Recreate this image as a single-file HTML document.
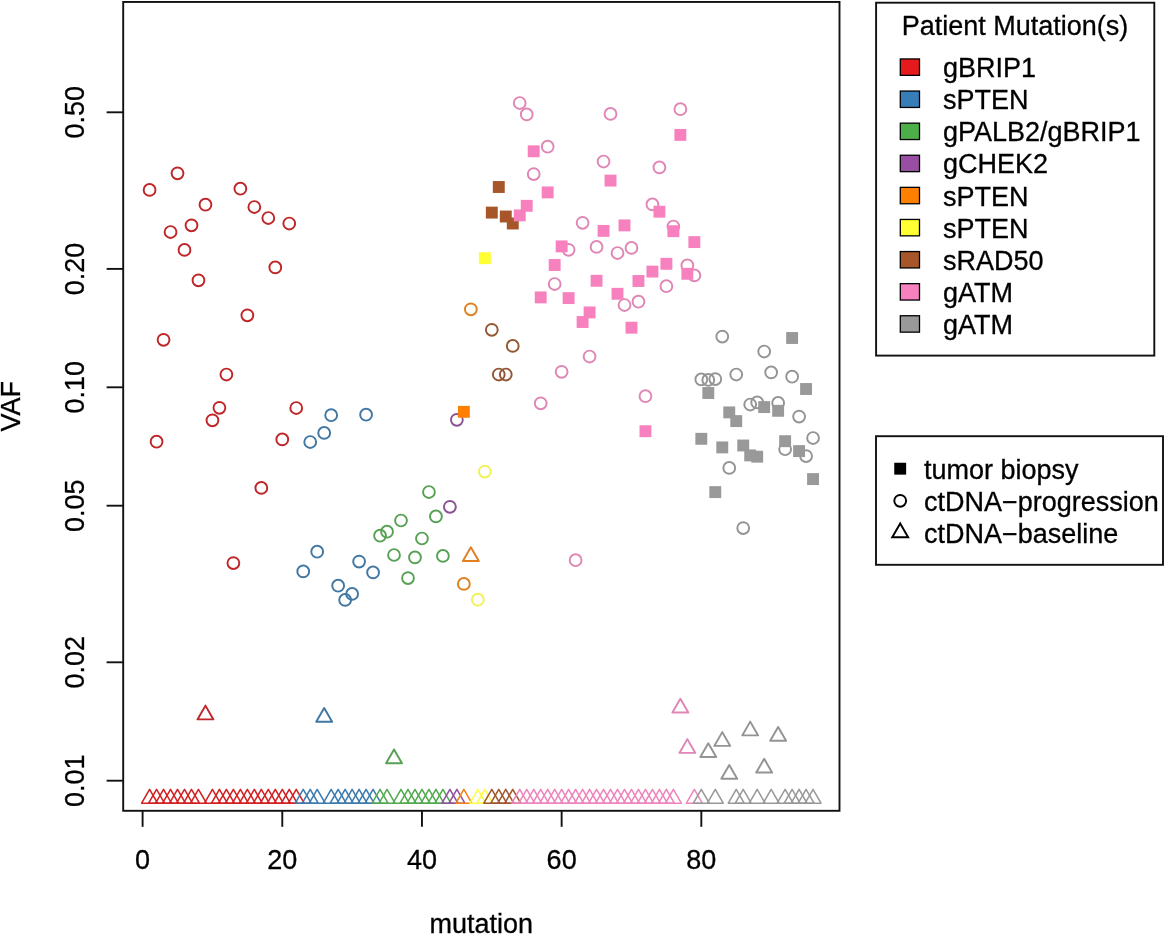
<!DOCTYPE html>
<html><head><meta charset="utf-8"><style>
html,body{margin:0;padding:0;background:#fff;}
body{width:1165px;height:935px;overflow:hidden;}
svg{display:block;will-change:transform;}
text{font-family:"Liberation Sans",sans-serif;font-size:27px;fill:#000;stroke:#000;stroke-width:0.3px;}
</style></head><body>
<svg width="1165" height="935" viewBox="0 0 1165 935">
<rect width="1165" height="935" fill="#fff"/>
<g fill="none" stroke-width="1.95" stroke-linejoin="round">
<path d="M149.58 789.42L157.53 803.19L141.64 803.19Z" stroke="#D32123" stroke-width="1.55"/>
<path d="M156.57 789.42L164.51 803.19L148.62 803.19Z" stroke="#D32123" stroke-width="1.55"/>
<path d="M163.55 789.42L171.50 803.19L155.61 803.19Z" stroke="#D32123" stroke-width="1.55"/>
<path d="M170.54 789.42L178.48 803.19L162.59 803.19Z" stroke="#D32123" stroke-width="1.55"/>
<path d="M177.52 789.42L185.47 803.19L169.57 803.19Z" stroke="#D32123" stroke-width="1.55"/>
<path d="M184.50 789.42L192.45 803.19L176.56 803.19Z" stroke="#D32123" stroke-width="1.55"/>
<path d="M191.49 789.42L199.43 803.19L183.54 803.19Z" stroke="#D32123" stroke-width="1.55"/>
<path d="M198.47 789.42L206.42 803.19L190.53 803.19Z" stroke="#D32123" stroke-width="1.55"/>
<path d="M205.46 705.62L213.40 719.39L197.51 719.39Z" stroke="#BF2628"/>
<path d="M212.44 789.42L220.39 803.19L204.49 803.19Z" stroke="#D32123" stroke-width="1.55"/>
<path d="M219.42 789.42L227.37 803.19L211.48 803.19Z" stroke="#D32123" stroke-width="1.55"/>
<path d="M226.41 789.42L234.35 803.19L218.46 803.19Z" stroke="#D32123" stroke-width="1.55"/>
<path d="M233.39 789.42L241.34 803.19L225.45 803.19Z" stroke="#D32123" stroke-width="1.55"/>
<path d="M240.38 789.42L248.32 803.19L232.43 803.19Z" stroke="#D32123" stroke-width="1.55"/>
<path d="M247.36 789.42L255.31 803.19L239.41 803.19Z" stroke="#D32123" stroke-width="1.55"/>
<path d="M254.34 789.42L262.29 803.19L246.40 803.19Z" stroke="#D32123" stroke-width="1.55"/>
<path d="M261.33 789.42L269.27 803.19L253.38 803.19Z" stroke="#D32123" stroke-width="1.55"/>
<path d="M268.31 789.42L276.26 803.19L260.37 803.19Z" stroke="#D32123" stroke-width="1.55"/>
<path d="M275.30 789.42L283.24 803.19L267.35 803.19Z" stroke="#D32123" stroke-width="1.55"/>
<path d="M282.28 789.42L290.23 803.19L274.33 803.19Z" stroke="#D32123" stroke-width="1.55"/>
<path d="M289.26 789.42L297.21 803.19L281.32 803.19Z" stroke="#D32123" stroke-width="1.55"/>
<path d="M296.25 789.42L304.19 803.19L288.30 803.19Z" stroke="#D32123" stroke-width="1.55"/>
<path d="M303.23 789.42L311.18 803.19L295.29 803.19Z" stroke="#3E7CAF" stroke-width="1.55"/>
<path d="M310.22 789.42L318.16 803.19L302.27 803.19Z" stroke="#3E7CAF" stroke-width="1.55"/>
<path d="M317.20 789.42L325.15 803.19L309.25 803.19Z" stroke="#3E7CAF" stroke-width="1.55"/>
<path d="M324.18 708.02L332.13 721.79L316.24 721.79Z" stroke="#4177A3"/>
<path d="M331.17 789.42L339.11 803.19L323.22 803.19Z" stroke="#3E7CAF" stroke-width="1.55"/>
<path d="M338.15 789.42L346.10 803.19L330.21 803.19Z" stroke="#3E7CAF" stroke-width="1.55"/>
<path d="M345.14 789.42L353.08 803.19L337.19 803.19Z" stroke="#3E7CAF" stroke-width="1.55"/>
<path d="M352.12 789.42L360.07 803.19L344.17 803.19Z" stroke="#3E7CAF" stroke-width="1.55"/>
<path d="M359.10 789.42L367.05 803.19L351.16 803.19Z" stroke="#3E7CAF" stroke-width="1.55"/>
<path d="M366.09 789.42L374.03 803.19L358.14 803.19Z" stroke="#3E7CAF" stroke-width="1.55"/>
<path d="M373.07 789.42L381.02 803.19L365.13 803.19Z" stroke="#3E7CAF" stroke-width="1.55"/>
<path d="M380.06 789.42L388.00 803.19L372.11 803.19Z" stroke="#54AA51" stroke-width="1.55"/>
<path d="M387.04 789.42L394.99 803.19L379.09 803.19Z" stroke="#54AA51" stroke-width="1.55"/>
<path d="M394.02 749.42L401.97 763.19L386.08 763.19Z" stroke="#57A155"/>
<path d="M401.01 789.42L408.95 803.19L393.06 803.19Z" stroke="#54AA51" stroke-width="1.55"/>
<path d="M407.99 789.42L415.94 803.19L400.05 803.19Z" stroke="#54AA51" stroke-width="1.55"/>
<path d="M414.98 789.42L422.92 803.19L407.03 803.19Z" stroke="#54AA51" stroke-width="1.55"/>
<path d="M421.96 789.42L429.91 803.19L414.01 803.19Z" stroke="#54AA51" stroke-width="1.55"/>
<path d="M428.94 789.42L436.89 803.19L421.00 803.19Z" stroke="#54AA51" stroke-width="1.55"/>
<path d="M435.93 789.42L443.87 803.19L427.98 803.19Z" stroke="#54AA51" stroke-width="1.55"/>
<path d="M442.91 789.42L450.86 803.19L434.97 803.19Z" stroke="#54AA51" stroke-width="1.55"/>
<path d="M449.90 789.42L457.84 803.19L441.95 803.19Z" stroke="#93529D" stroke-width="1.55"/>
<path d="M456.88 789.42L464.83 803.19L448.93 803.19Z" stroke="#93529D" stroke-width="1.55"/>
<path d="M463.86 789.42L471.81 803.19L455.92 803.19Z" stroke="#F28212" stroke-width="1.55"/>
<path d="M470.85 547.32L478.79 561.09L462.90 561.09Z" stroke="#E18020"/>
<path d="M477.83 789.42L485.78 803.19L469.89 803.19Z" stroke="#FCFC49" stroke-width="1.55"/>
<path d="M484.82 789.42L492.76 803.19L476.87 803.19Z" stroke="#FCFC49" stroke-width="1.55"/>
<path d="M491.80 789.42L499.75 803.19L483.85 803.19Z" stroke="#9F5830" stroke-width="1.55"/>
<path d="M498.78 789.42L506.73 803.19L490.84 803.19Z" stroke="#9F5830" stroke-width="1.55"/>
<path d="M505.77 789.42L513.71 803.19L497.82 803.19Z" stroke="#9F5830" stroke-width="1.55"/>
<path d="M512.75 789.42L520.70 803.19L504.81 803.19Z" stroke="#9F5830" stroke-width="1.55"/>
<path d="M519.74 789.42L527.68 803.19L511.79 803.19Z" stroke="#EE86BD" stroke-width="1.55"/>
<path d="M526.72 789.42L534.67 803.19L518.77 803.19Z" stroke="#EE86BD" stroke-width="1.55"/>
<path d="M533.70 789.42L541.65 803.19L525.76 803.19Z" stroke="#EE86BD" stroke-width="1.55"/>
<path d="M540.69 789.42L548.63 803.19L532.74 803.19Z" stroke="#EE86BD" stroke-width="1.55"/>
<path d="M547.67 789.42L555.62 803.19L539.73 803.19Z" stroke="#EE86BD" stroke-width="1.55"/>
<path d="M554.66 789.42L562.60 803.19L546.71 803.19Z" stroke="#EE86BD" stroke-width="1.55"/>
<path d="M561.64 789.42L569.59 803.19L553.69 803.19Z" stroke="#EE86BD" stroke-width="1.55"/>
<path d="M568.62 789.42L576.57 803.19L560.68 803.19Z" stroke="#EE86BD" stroke-width="1.55"/>
<path d="M575.61 789.42L583.55 803.19L567.66 803.19Z" stroke="#EE86BD" stroke-width="1.55"/>
<path d="M582.59 789.42L590.54 803.19L574.65 803.19Z" stroke="#EE86BD" stroke-width="1.55"/>
<path d="M589.58 789.42L597.52 803.19L581.63 803.19Z" stroke="#EE86BD" stroke-width="1.55"/>
<path d="M596.56 789.42L604.51 803.19L588.61 803.19Z" stroke="#EE86BD" stroke-width="1.55"/>
<path d="M603.54 789.42L611.49 803.19L595.60 803.19Z" stroke="#EE86BD" stroke-width="1.55"/>
<path d="M610.53 789.42L618.47 803.19L602.58 803.19Z" stroke="#EE86BD" stroke-width="1.55"/>
<path d="M617.51 789.42L625.46 803.19L609.57 803.19Z" stroke="#EE86BD" stroke-width="1.55"/>
<path d="M624.50 789.42L632.44 803.19L616.55 803.19Z" stroke="#EE86BD" stroke-width="1.55"/>
<path d="M631.48 789.42L639.43 803.19L623.53 803.19Z" stroke="#EE86BD" stroke-width="1.55"/>
<path d="M638.46 789.42L646.41 803.19L630.52 803.19Z" stroke="#EE86BD" stroke-width="1.55"/>
<path d="M645.45 789.42L653.39 803.19L637.50 803.19Z" stroke="#EE86BD" stroke-width="1.55"/>
<path d="M652.43 789.42L660.38 803.19L644.49 803.19Z" stroke="#EE86BD" stroke-width="1.55"/>
<path d="M659.42 789.42L667.36 803.19L651.47 803.19Z" stroke="#EE86BD" stroke-width="1.55"/>
<path d="M666.40 789.42L674.35 803.19L658.45 803.19Z" stroke="#EE86BD" stroke-width="1.55"/>
<path d="M673.38 789.42L681.33 803.19L665.44 803.19Z" stroke="#EE86BD" stroke-width="1.55"/>
<path d="M680.37 698.82L688.31 712.59L672.42 712.59Z" stroke="#DF86B5"/>
<path d="M687.35 739.12L695.30 752.89L679.41 752.89Z" stroke="#DF86B5"/>
<path d="M694.34 789.42L702.28 803.19L686.39 803.19Z" stroke="#EE86BD" stroke-width="1.55"/>
<path d="M701.32 789.42L709.27 803.19L693.37 803.19Z" stroke="#999999" stroke-width="1.55"/>
<path d="M708.30 743.22L716.25 756.99L700.36 756.99Z" stroke="#949494"/>
<path d="M715.29 789.42L723.23 803.19L707.34 803.19Z" stroke="#999999" stroke-width="1.55"/>
<path d="M722.27 732.12L730.22 745.89L714.33 745.89Z" stroke="#949494"/>
<path d="M729.26 765.02L737.20 778.79L721.31 778.79Z" stroke="#949494"/>
<path d="M736.24 789.42L744.19 803.19L728.29 803.19Z" stroke="#999999" stroke-width="1.55"/>
<path d="M743.22 789.42L751.17 803.19L735.28 803.19Z" stroke="#999999" stroke-width="1.55"/>
<path d="M750.21 721.62L758.15 735.39L742.26 735.39Z" stroke="#949494"/>
<path d="M757.19 789.42L765.14 803.19L749.25 803.19Z" stroke="#999999" stroke-width="1.55"/>
<path d="M764.18 758.82L772.12 772.59L756.23 772.59Z" stroke="#949494"/>
<path d="M771.16 789.42L779.11 803.19L763.21 803.19Z" stroke="#999999" stroke-width="1.55"/>
<path d="M778.14 726.92L786.09 740.69L770.20 740.69Z" stroke="#949494"/>
<path d="M785.13 789.42L793.07 803.19L777.18 803.19Z" stroke="#999999" stroke-width="1.55"/>
<path d="M792.11 789.42L800.06 803.19L784.17 803.19Z" stroke="#999999" stroke-width="1.55"/>
<path d="M799.10 789.42L807.04 803.19L791.15 803.19Z" stroke="#999999" stroke-width="1.55"/>
<path d="M806.08 789.42L814.03 803.19L798.13 803.19Z" stroke="#999999" stroke-width="1.55"/>
<path d="M813.06 789.42L821.01 803.19L805.12 803.19Z" stroke="#999999" stroke-width="1.55"/>
</g>
<g fill="none" stroke-width="1.95">
<circle cx="149.58" cy="189.9" r="5.9" stroke="#BF2628"/>
<circle cx="156.57" cy="441.7" r="5.9" stroke="#BF2628"/>
<circle cx="163.55" cy="339.8" r="5.9" stroke="#BF2628"/>
<circle cx="170.54" cy="232.0" r="5.9" stroke="#BF2628"/>
<circle cx="177.52" cy="173.3" r="5.9" stroke="#BF2628"/>
<circle cx="184.50" cy="249.9" r="5.9" stroke="#BF2628"/>
<circle cx="191.49" cy="225.3" r="5.9" stroke="#BF2628"/>
<circle cx="198.47" cy="280.3" r="5.9" stroke="#BF2628"/>
<circle cx="205.46" cy="204.7" r="5.9" stroke="#BF2628"/>
<circle cx="212.44" cy="420.3" r="5.9" stroke="#BF2628"/>
<circle cx="219.42" cy="407.8" r="5.9" stroke="#BF2628"/>
<circle cx="226.41" cy="374.5" r="5.9" stroke="#BF2628"/>
<circle cx="233.39" cy="563.1" r="5.9" stroke="#BF2628"/>
<circle cx="240.38" cy="188.7" r="5.9" stroke="#BF2628"/>
<circle cx="247.36" cy="315.3" r="5.9" stroke="#BF2628"/>
<circle cx="254.34" cy="207.0" r="5.9" stroke="#BF2628"/>
<circle cx="261.33" cy="487.9" r="5.9" stroke="#BF2628"/>
<circle cx="268.31" cy="218.0" r="5.9" stroke="#BF2628"/>
<circle cx="275.30" cy="267.4" r="5.9" stroke="#BF2628"/>
<circle cx="282.28" cy="439.4" r="5.9" stroke="#BF2628"/>
<circle cx="289.26" cy="223.5" r="5.9" stroke="#BF2628"/>
<circle cx="296.25" cy="408.0" r="5.9" stroke="#BF2628"/>
<circle cx="303.23" cy="571.4" r="5.9" stroke="#4177A3"/>
<circle cx="310.22" cy="442.0" r="5.9" stroke="#4177A3"/>
<circle cx="317.20" cy="551.7" r="5.9" stroke="#4177A3"/>
<circle cx="324.18" cy="432.9" r="5.9" stroke="#4177A3"/>
<circle cx="331.17" cy="415.2" r="5.9" stroke="#4177A3"/>
<circle cx="338.15" cy="585.7" r="5.9" stroke="#4177A3"/>
<circle cx="345.14" cy="599.9" r="5.9" stroke="#4177A3"/>
<circle cx="352.12" cy="593.9" r="5.9" stroke="#4177A3"/>
<circle cx="359.10" cy="561.6" r="5.9" stroke="#4177A3"/>
<circle cx="366.09" cy="414.7" r="5.9" stroke="#4177A3"/>
<circle cx="373.07" cy="572.4" r="5.9" stroke="#4177A3"/>
<circle cx="380.06" cy="535.7" r="5.9" stroke="#57A155"/>
<circle cx="387.04" cy="531.7" r="5.9" stroke="#57A155"/>
<circle cx="394.02" cy="555.0" r="5.9" stroke="#57A155"/>
<circle cx="401.01" cy="520.5" r="5.9" stroke="#57A155"/>
<circle cx="407.99" cy="578.1" r="5.9" stroke="#57A155"/>
<circle cx="414.98" cy="557.4" r="5.9" stroke="#57A155"/>
<circle cx="421.96" cy="538.5" r="5.9" stroke="#57A155"/>
<circle cx="428.94" cy="492.0" r="5.9" stroke="#57A155"/>
<circle cx="435.93" cy="516.4" r="5.9" stroke="#57A155"/>
<circle cx="442.91" cy="555.9" r="5.9" stroke="#57A155"/>
<circle cx="449.90" cy="506.8" r="5.9" stroke="#8A5293"/>
<circle cx="456.88" cy="419.8" r="5.9" stroke="#8A5293"/>
<circle cx="463.86" cy="583.9" r="5.9" stroke="#E18020"/>
<circle cx="470.85" cy="309.3" r="5.9" stroke="#E18020"/>
<circle cx="477.83" cy="599.7" r="5.9" stroke="#F2F258"/>
<circle cx="484.82" cy="471.6" r="5.9" stroke="#F2F258"/>
<circle cx="491.80" cy="329.8" r="5.9" stroke="#945735"/>
<circle cx="498.78" cy="374.5" r="5.9" stroke="#945735"/>
<circle cx="505.77" cy="374.5" r="5.9" stroke="#945735"/>
<circle cx="512.75" cy="345.9" r="5.9" stroke="#945735"/>
<circle cx="519.74" cy="103.0" r="5.9" stroke="#DF86B5"/>
<circle cx="526.72" cy="114.4" r="5.9" stroke="#DF86B5"/>
<circle cx="533.70" cy="174.1" r="5.9" stroke="#DF86B5"/>
<circle cx="540.69" cy="403.3" r="5.9" stroke="#DF86B5"/>
<circle cx="547.67" cy="146.7" r="5.9" stroke="#DF86B5"/>
<circle cx="554.66" cy="284.0" r="5.9" stroke="#DF86B5"/>
<circle cx="561.64" cy="371.8" r="5.9" stroke="#DF86B5"/>
<circle cx="568.62" cy="249.8" r="5.9" stroke="#DF86B5"/>
<circle cx="575.61" cy="560.2" r="5.9" stroke="#DF86B5"/>
<circle cx="582.59" cy="222.8" r="5.9" stroke="#DF86B5"/>
<circle cx="589.58" cy="356.5" r="5.9" stroke="#DF86B5"/>
<circle cx="596.56" cy="246.9" r="5.9" stroke="#DF86B5"/>
<circle cx="603.54" cy="161.5" r="5.9" stroke="#DF86B5"/>
<circle cx="610.53" cy="113.9" r="5.9" stroke="#DF86B5"/>
<circle cx="617.51" cy="253.0" r="5.9" stroke="#DF86B5"/>
<circle cx="624.50" cy="305.0" r="5.9" stroke="#DF86B5"/>
<circle cx="631.48" cy="247.9" r="5.9" stroke="#DF86B5"/>
<circle cx="638.46" cy="301.7" r="5.9" stroke="#DF86B5"/>
<circle cx="645.45" cy="396.2" r="5.9" stroke="#DF86B5"/>
<circle cx="652.43" cy="204.4" r="5.9" stroke="#DF86B5"/>
<circle cx="659.42" cy="167.4" r="5.9" stroke="#DF86B5"/>
<circle cx="666.40" cy="286.2" r="5.9" stroke="#DF86B5"/>
<circle cx="673.38" cy="226.5" r="5.9" stroke="#DF86B5"/>
<circle cx="680.37" cy="109.2" r="5.9" stroke="#DF86B5"/>
<circle cx="687.35" cy="265.4" r="5.9" stroke="#DF86B5"/>
<circle cx="694.34" cy="275.4" r="5.9" stroke="#DF86B5"/>
<circle cx="701.32" cy="379.4" r="5.9" stroke="#949494"/>
<circle cx="708.30" cy="379.9" r="5.9" stroke="#949494"/>
<circle cx="715.29" cy="379.1" r="5.9" stroke="#949494"/>
<circle cx="722.27" cy="336.6" r="5.9" stroke="#949494"/>
<circle cx="729.26" cy="467.9" r="5.9" stroke="#949494"/>
<circle cx="736.24" cy="374.5" r="5.9" stroke="#949494"/>
<circle cx="743.22" cy="528.1" r="5.9" stroke="#949494"/>
<circle cx="750.21" cy="404.5" r="5.9" stroke="#949494"/>
<circle cx="757.19" cy="402.4" r="5.9" stroke="#949494"/>
<circle cx="764.18" cy="351.5" r="5.9" stroke="#949494"/>
<circle cx="771.16" cy="372.4" r="5.9" stroke="#949494"/>
<circle cx="778.14" cy="402.9" r="5.9" stroke="#949494"/>
<circle cx="785.13" cy="449.2" r="5.9" stroke="#949494"/>
<circle cx="792.11" cy="376.7" r="5.9" stroke="#949494"/>
<circle cx="799.10" cy="416.6" r="5.9" stroke="#949494"/>
<circle cx="806.08" cy="456.1" r="5.9" stroke="#949494"/>
<circle cx="813.06" cy="438.0" r="5.9" stroke="#949494"/>
</g>
<g>
<rect x="457.91" y="405.85" width="11.9" height="11.9" fill="#FF7F00"/>
<rect x="478.87" y="252.25" width="11.9" height="11.9" fill="#FFFF33"/>
<rect x="485.85" y="206.65" width="11.9" height="11.9" fill="#A65628"/>
<rect x="492.83" y="181.05" width="11.9" height="11.9" fill="#A65628"/>
<rect x="499.82" y="210.55" width="11.9" height="11.9" fill="#A65628"/>
<rect x="506.80" y="217.55" width="11.9" height="11.9" fill="#A65628"/>
<rect x="513.79" y="209.45" width="11.9" height="11.9" fill="#F781BF"/>
<rect x="520.77" y="199.85" width="11.9" height="11.9" fill="#F781BF"/>
<rect x="527.75" y="145.35" width="11.9" height="11.9" fill="#F781BF"/>
<rect x="534.74" y="291.45" width="11.9" height="11.9" fill="#F781BF"/>
<rect x="541.72" y="186.45" width="11.9" height="11.9" fill="#F781BF"/>
<rect x="548.71" y="259.05" width="11.9" height="11.9" fill="#F781BF"/>
<rect x="555.69" y="240.45" width="11.9" height="11.9" fill="#F781BF"/>
<rect x="562.67" y="292.15" width="11.9" height="11.9" fill="#F781BF"/>
<rect x="576.64" y="316.05" width="11.9" height="11.9" fill="#F781BF"/>
<rect x="583.63" y="306.45" width="11.9" height="11.9" fill="#F781BF"/>
<rect x="590.61" y="274.85" width="11.9" height="11.9" fill="#F781BF"/>
<rect x="597.59" y="224.95" width="11.9" height="11.9" fill="#F781BF"/>
<rect x="604.58" y="174.65" width="11.9" height="11.9" fill="#F781BF"/>
<rect x="611.56" y="287.85" width="11.9" height="11.9" fill="#F781BF"/>
<rect x="618.55" y="219.45" width="11.9" height="11.9" fill="#F781BF"/>
<rect x="625.53" y="321.75" width="11.9" height="11.9" fill="#F781BF"/>
<rect x="632.51" y="275.05" width="11.9" height="11.9" fill="#F781BF"/>
<rect x="639.50" y="425.25" width="11.9" height="11.9" fill="#F781BF"/>
<rect x="646.48" y="265.65" width="11.9" height="11.9" fill="#F781BF"/>
<rect x="653.47" y="205.75" width="11.9" height="11.9" fill="#F781BF"/>
<rect x="660.45" y="257.85" width="11.9" height="11.9" fill="#F781BF"/>
<rect x="667.43" y="225.25" width="11.9" height="11.9" fill="#F781BF"/>
<rect x="674.42" y="128.95" width="11.9" height="11.9" fill="#F781BF"/>
<rect x="681.40" y="267.85" width="11.9" height="11.9" fill="#F781BF"/>
<rect x="688.39" y="236.15" width="11.9" height="11.9" fill="#F781BF"/>
<rect x="695.37" y="432.85" width="11.9" height="11.9" fill="#999999"/>
<rect x="702.35" y="387.05" width="11.9" height="11.9" fill="#999999"/>
<rect x="709.34" y="486.15" width="11.9" height="11.9" fill="#999999"/>
<rect x="716.32" y="441.45" width="11.9" height="11.9" fill="#999999"/>
<rect x="723.31" y="406.45" width="11.9" height="11.9" fill="#999999"/>
<rect x="730.29" y="415.15" width="11.9" height="11.9" fill="#999999"/>
<rect x="737.27" y="439.55" width="11.9" height="11.9" fill="#999999"/>
<rect x="744.26" y="449.45" width="11.9" height="11.9" fill="#999999"/>
<rect x="751.24" y="450.75" width="11.9" height="11.9" fill="#999999"/>
<rect x="758.23" y="401.15" width="11.9" height="11.9" fill="#999999"/>
<rect x="772.19" y="404.85" width="11.9" height="11.9" fill="#999999"/>
<rect x="779.18" y="435.25" width="11.9" height="11.9" fill="#999999"/>
<rect x="786.16" y="332.05" width="11.9" height="11.9" fill="#999999"/>
<rect x="793.15" y="445.15" width="11.9" height="11.9" fill="#999999"/>
<rect x="800.13" y="383.05" width="11.9" height="11.9" fill="#999999"/>
<rect x="807.11" y="473.15" width="11.9" height="11.9" fill="#999999"/>
</g>
<rect x="123.2" y="1.95" width="716.30" height="808.85" fill="none" stroke="#111" stroke-width="1.9"/>
<line x1="106.60" y1="112.3" x2="123.2" y2="112.3" stroke="#111" stroke-width="1.9"/>
<text transform="translate(84.3 112.3) rotate(-90)" text-anchor="middle">0.50</text>
<line x1="106.60" y1="268.9" x2="123.2" y2="268.9" stroke="#111" stroke-width="1.9"/>
<text transform="translate(84.3 268.9) rotate(-90)" text-anchor="middle">0.20</text>
<line x1="106.60" y1="387.3" x2="123.2" y2="387.3" stroke="#111" stroke-width="1.9"/>
<text transform="translate(84.3 387.3) rotate(-90)" text-anchor="middle">0.10</text>
<line x1="106.60" y1="505.7" x2="123.2" y2="505.7" stroke="#111" stroke-width="1.9"/>
<text transform="translate(84.3 505.7) rotate(-90)" text-anchor="middle">0.05</text>
<line x1="106.60" y1="662.3" x2="123.2" y2="662.3" stroke="#111" stroke-width="1.9"/>
<text transform="translate(84.3 662.3) rotate(-90)" text-anchor="middle">0.02</text>
<line x1="106.60" y1="780.7" x2="123.2" y2="780.7" stroke="#111" stroke-width="1.9"/>
<text transform="translate(84.3 780.7) rotate(-90)" text-anchor="middle">0.01</text>
<line x1="142.60" y1="810.8" x2="142.60" y2="826.8" stroke="#111" stroke-width="1.9"/>
<text x="142.60" y="869.3" text-anchor="middle">0</text>
<line x1="282.28" y1="810.8" x2="282.28" y2="826.8" stroke="#111" stroke-width="1.9"/>
<text x="282.28" y="869.3" text-anchor="middle">20</text>
<line x1="421.96" y1="810.8" x2="421.96" y2="826.8" stroke="#111" stroke-width="1.9"/>
<text x="421.96" y="869.3" text-anchor="middle">40</text>
<line x1="561.64" y1="810.8" x2="561.64" y2="826.8" stroke="#111" stroke-width="1.9"/>
<text x="561.64" y="869.3" text-anchor="middle">60</text>
<line x1="701.32" y1="810.8" x2="701.32" y2="826.8" stroke="#111" stroke-width="1.9"/>
<text x="701.32" y="869.3" text-anchor="middle">80</text>
<text x="481.3" y="932.8" text-anchor="middle">mutation</text>
<text transform="translate(19.8 406.3) rotate(-90)" text-anchor="middle">VAF</text>
<rect x="876.1" y="2.7" width="278.2" height="352.9" fill="none" stroke="#111" stroke-width="1.9"/>
<text x="1015.0" y="35.1" text-anchor="middle">Patient Mutation(s)</text>
<rect x="900.3" y="58.95" width="19.2" height="16.4" fill="#E41A1C" stroke="#000" stroke-width="1.3"/>
<text x="943.0" y="77.15">gBRIP1</text>
<rect x="900.3" y="91.05" width="19.2" height="16.4" fill="#377EB8" stroke="#000" stroke-width="1.3"/>
<text x="943.0" y="109.25">sPTEN</text>
<rect x="900.3" y="123.15" width="19.2" height="16.4" fill="#4DAF4A" stroke="#000" stroke-width="1.3"/>
<text x="943.0" y="141.35">gPALB2/gBRIP1</text>
<rect x="900.3" y="155.25" width="19.2" height="16.4" fill="#984EA3" stroke="#000" stroke-width="1.3"/>
<text x="943.0" y="173.45">gCHEK2</text>
<rect x="900.3" y="187.35" width="19.2" height="16.4" fill="#FF7F00" stroke="#000" stroke-width="1.3"/>
<text x="943.0" y="205.55">sPTEN</text>
<rect x="900.3" y="219.45" width="19.2" height="16.4" fill="#FFFF33" stroke="#000" stroke-width="1.3"/>
<text x="943.0" y="237.65">sPTEN</text>
<rect x="900.3" y="251.55" width="19.2" height="16.4" fill="#A65628" stroke="#000" stroke-width="1.3"/>
<text x="943.0" y="269.75">sRAD50</text>
<rect x="900.3" y="283.65" width="19.2" height="16.4" fill="#F781BF" stroke="#000" stroke-width="1.3"/>
<text x="943.0" y="301.85">gATM</text>
<rect x="900.3" y="315.75" width="19.2" height="16.4" fill="#999999" stroke="#000" stroke-width="1.3"/>
<text x="943.0" y="333.95">gATM</text>
<rect x="876.0" y="436.2" width="287.0" height="128.6" fill="none" stroke="#111" stroke-width="1.9"/>
<rect x="894.25" y="462.75" width="11.9" height="11.9" fill="#000"/>
<circle cx="900.2" cy="500.8" r="5.9" fill="none" stroke="#000" stroke-width="1.95"/>
<path d="M900.20 523.42L908.15 537.19L892.25 537.19Z" fill="none" stroke="#000" stroke-width="1.95"/>
<text x="924.0" y="478.5">tumor biopsy</text>
<text x="924.0" y="510.6">ctDNA−progression</text>
<text x="924.0" y="542.6">ctDNA−baseline</text>
</svg>
</body></html>
